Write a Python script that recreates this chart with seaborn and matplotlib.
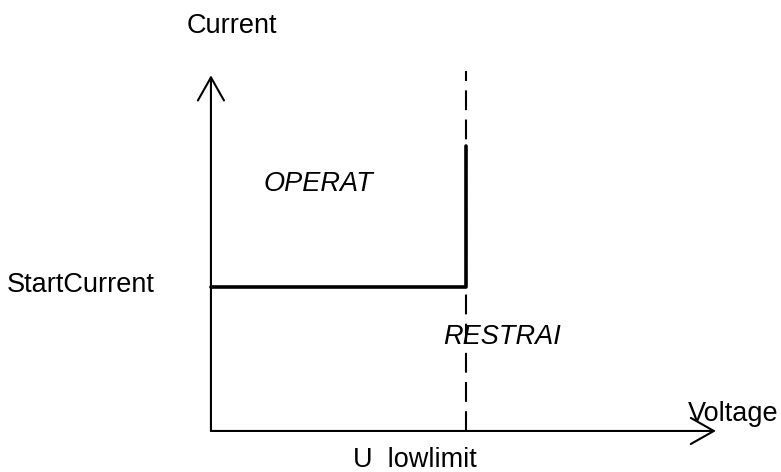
import numpy as np
import pandas as pd
import matplotlib
matplotlib.use('Agg')
import matplotlib.pyplot as plt
import seaborn as sns

# characteristic, in units of U_lowlimit (x) and StartCurrent (y)
voltage = [0.0, 1.0, 1.0]
current = [1.0, 1.0, 1.98]
u_lowlimit = 1.0
limit_top = 2.5
x_axis_end = 1.98
y_axis_end = 2.47

sns.set_style('white')
plt.rcParams['font.family'] = ['Liberation Sans', 'DejaVu Sans']
plt.rcParams['text.color'] = 'black'

fig = plt.figure(figsize=(7.81, 4.72), dpi=100)
ax = fig.add_axes([0, 0, 1, 1])
ax.set_xlim(-0.827, 2.235)
ax.set_ylim(-0.285, 2.993)
ax.axis('off')

# axes with open arrow heads
arrow = dict(arrowstyle='->,head_length=0.83,head_width=0.47', lw=1.5,
             color='black', shrinkA=0, shrinkB=0, mutation_scale=20)
ax.annotate('', xy=(x_axis_end, 0), xytext=(0, 0), arrowprops=arrow)
ax.annotate('', xy=(0, y_axis_end), xytext=(0, 0), arrowprops=arrow)

# U lowlimit dashed boundary
lim = pd.DataFrame({'x': [u_lowlimit, u_lowlimit], 'y': [0, limit_top]})
ax.plot(lim['x'], lim['y'], color='black', lw=1.5, dashes=(9.5, 4.5))

# operate characteristic
df = pd.DataFrame({'U': voltage, 'I': current})
sns.lineplot(data=df, x='U', y='I', sort=False, estimator=None, color='black',
             lw=2.6, ax=ax, zorder=3)

fs = 19.5
fig.text(232 / 781, 1 - 33 / 472, 'Current', ha='center', va='baseline', fontsize=fs)
fig.text(155 / 781, 1 - 292 / 472, 'StartCurrent', ha='right', va='baseline', fontsize=fs)
fig.text(264 / 781, 1 - 191 / 472, 'OPERAT', ha='left', va='baseline', fontsize=fs, style='italic')
fig.text(443 / 781, 1 - 344 / 472, 'RESTRAI', ha='left', va='baseline', fontsize=fs, style='italic')
fig.text(688 / 781, 1 - 421 / 472, 'Voltage', ha='left', va='baseline', fontsize=fs)
fig.text(353 / 781, 1 - 467 / 472, 'U  lowlimit', ha='left', va='baseline', fontsize=fs)

fig.savefig('out.png', dpi=100)
